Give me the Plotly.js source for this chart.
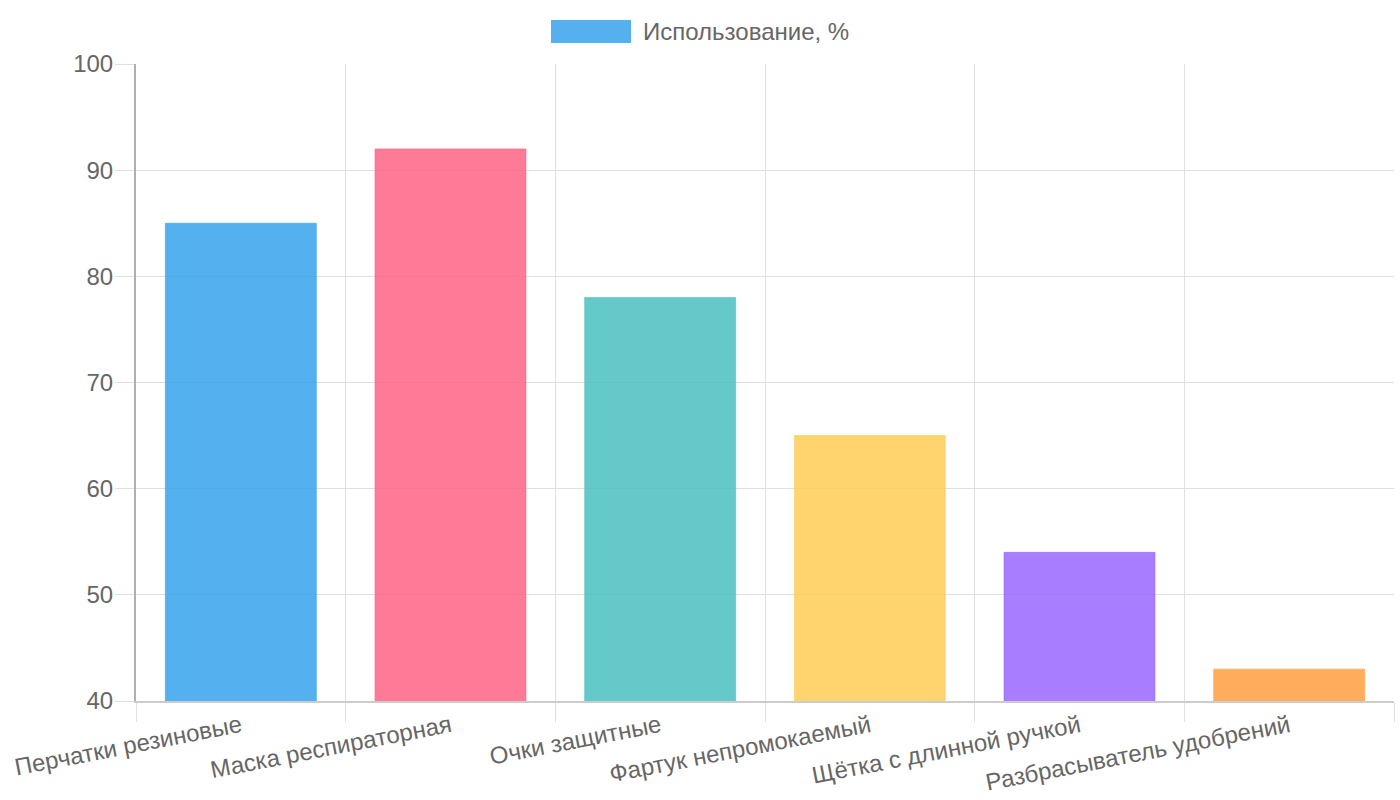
<!DOCTYPE html>
<html>
<head>
<meta charset="utf-8">
<script src="https://cdn.plot.ly/plotly-3.0.1.min.js"></script>
<style>html,body{margin:0;padding:0;background:#fff;}#chart{width:1400px;height:800px;}</style>
</head>
<body>
<div id="chart"></div>
<script>
const categories = ["Перчатки резиновые", "Маска респираторная", "Очки защитные", "Фартук непромокаемый", "Щётка с длинной ручкой", "Разбрасыватель удобрений"];
const usage = [85, 92, 78, 65, 54, 43];
const seriesName = "Использование, %";
const fillColors = ["rgba(54,162,235,0.85)", "rgba(255,99,132,0.85)", "rgba(75,192,192,0.85)", "rgba(255,205,86,0.85)", "rgba(153,102,255,0.85)", "rgba(255,159,64,0.85)"];
const lineColors = ["rgba(54,162,235,0.6)", "rgba(255,99,132,0.6)", "rgba(75,192,192,0.6)", "rgba(255,205,86,0.6)", "rgba(153,102,255,0.6)", "rgba(255,159,64,0.6)"];
const yTicks = [40, 50, 60, 70, 80, 90, 100];

const W = 1400, H = 800;
const m = {l: 136, r: 6, t: 64, b: 99};
const pw = W - m.l - m.r, ph = H - m.t - m.b;
const px = x => (x - m.l) / pw;
const py = y => (H - m.b - y) / ph;

const font = "Liberation Sans, Arial, sans-serif";
const trace = {
  type: "bar",
  x: categories,
  y: usage,
  name: seriesName,
  width: 0.72,
  marker: {color: fillColors, line: {color: lineColors, width: 1}},
  showlegend: false,
  hoverinfo: "x+y"
};

const layout = {
  width: W, height: H,
  margin: m,
  paper_bgcolor: "#fff",
  plot_bgcolor: "#fff",
  font: {family: font, color: "#666", size: 24},
  xaxis: {
    type: "category",
    tickson: "boundaries",
    automargin: false,
    showgrid: true,
    gridcolor: "#e0e0e0",
    gridwidth: 1,
    ticks: "outside",
    ticklen: 19,
    tickcolor: "#e0e0e0",
    tickangle: -11,
    showline: true,
    linecolor: "#cccccc",
    linewidth: 2,
    tickfont: {family: font, size: 24, color: "#666"},
    zeroline: false,
    fixedrange: true
  },
  yaxis: {
    range: [40, 100],
    tickvals: yTicks,
    automargin: false,
    showgrid: true,
    gridcolor: "#e0e0e0",
    gridwidth: 1,
    ticks: "outside",
    ticklen: 19,
    tickcolor: "#e0e0e0",
    ticklabelstandoff: -3,
    showline: true,
    linecolor: "#b0b0b0",
    linewidth: 2,
    zeroline: false,
    tickfont: {family: font, size: 24, color: "#666"},
    fixedrange: true
  },
  shapes: [{
    type: "rect", xref: "paper", yref: "paper",
    x0: px(551), x1: px(631), y0: py(43), y1: py(20),
    fillcolor: "rgba(54,162,235,0.85)", line: {width: 0}
  }],
  annotations: [{
    xref: "paper", yref: "paper",
    x: px(641), y: py(32), xanchor: "left", yanchor: "middle",
    text: seriesName, showarrow: false,
    font: {family: font, size: 24, color: "#666"}
  }]
};

Plotly.newPlot("chart", [trace], layout, {displayModeBar: false, responsive: false});
</script>
</body>
</html>
